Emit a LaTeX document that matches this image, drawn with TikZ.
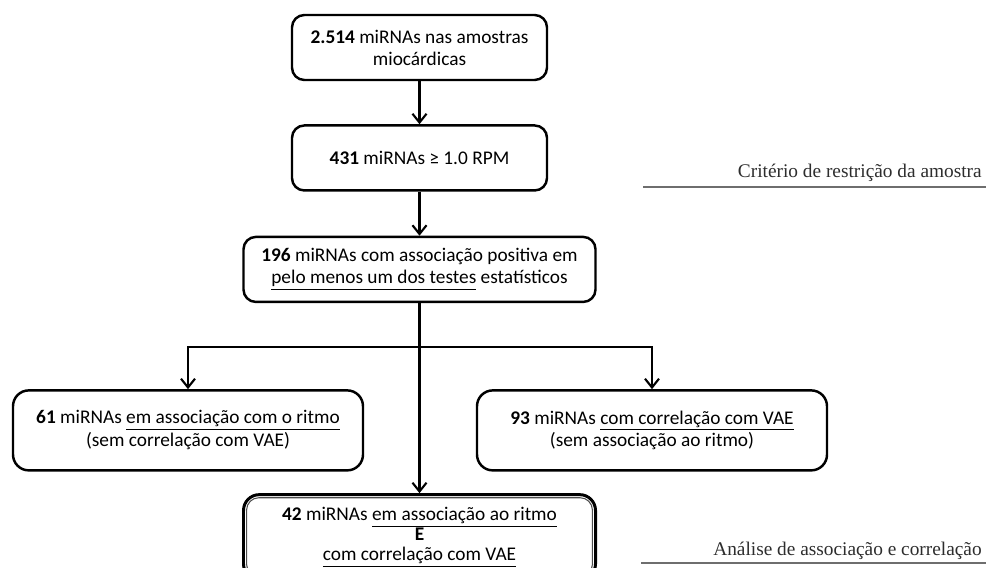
\documentclass[tikz,border=0pt]{standalone}
\usepackage{fontspec}
\setmainfont{Carlito}
\newfontfamily\serifside{Liberation Serif}
\usetikzlibrary{arrows.meta,positioning,calc}
\definecolor{sidegray}{RGB}{45,45,45}
\definecolor{rulegray}{RGB}{110,110,110}

\begin{document}
\begin{tikzpicture}[
    box/.style={draw=black,line width=1.4pt,rounded corners=7pt,align=center,
      minimum width=5.1cm,minimum height=1.3cm,inner sep=2pt,
      font=\fontsize{11}{12.5}\selectfont},
    widebox/.style={box,minimum width=7.04cm},
    sidebox/.style={box,rounded corners=9pt,minimum width=7cm,minimum height=1.6cm,
      font=\fontsize{11}{13}\selectfont},
    finalbox/.style={widebox,line width=1.7pt,minimum height=1.7cm,
      rounded corners=9pt,font=\fontsize{11}{11.5}\selectfont},
    arr/.style={-{Straight Barb[length=5pt,width=8pt]},line width=1.2pt},
    stage/.style={font=\serifside\fontsize{11}{13}\selectfont,text=sidegray,
      anchor=base east,inner sep=0pt},
    rule/.style={draw=rulegray,line width=0.8pt}
  ]
    \useasboundingbox (0,0) rectangle (19.72,-11.34);
    \node[box] (total) at (8.39,-0.95) {\textbf{2.514} miRNAs nas amostras\\miocárdicas};
    \node[box,below=0.86cm of total] (filter) {\textbf{431} miRNAs ≥ 1.0 RPM};
    \node[widebox,below=0.88cm of filter] (assoc)
      {\textbf{196} miRNAs com associação positiva em\\
       \underline{pelo menos um dos testes} estatísticos};
    \coordinate (fork) at ($(assoc.south)+(0,-0.88)$);
    \node[sidebox,below=1.72cm of assoc,xshift=-4.63cm] (rhythm)
      {\textbf{61} miRNAs \underline{em associação com o ritmo}\\(sem correlação com VAE)};
    \node[sidebox,below=1.72cm of assoc,xshift=4.65cm] (vae)
      {\textbf{93} miRNAs \underline{com correlação com VAE}\\(sem associação ao ritmo)};
    \node[finalbox,below=3.8cm of assoc] (both)
      {\textbf{42} miRNAs \underline{em associação ao ritmo}\\\textbf{E}\\
       \underline{com correlação com VAE}};
    % inner line of the double frame
    \draw[line width=0.6pt,draw=black!70,rounded corners=7pt]
      ([shift={(2.6pt,-2.6pt)}]both.north west) rectangle ([shift={(-2.6pt,2.6pt)}]both.south east);
    \draw[arr] (total) -- (filter);
    \draw[arr] (filter) -- (assoc);
    \draw[arr] (assoc) -- (both);
    \draw[arr] (fork) -| (rhythm.north);
    \draw[arr] (fork) -| (vae.north);
    % stage labels on the right
    \node[stage] (restr) at (19.64,-3.54) {Critério de restrição da amostra};
    \coordinate (restrL) at (12.86,-3.74);
    \coordinate (restrR) at (19.72,-3.74);
    \draw[rule] (restrL) -- (restrR);
    \node[stage] (anal) at (19.64,-11.10) {Análise de associação e correlação};
    \coordinate (analL) at (12.82,-11.26);
    \coordinate (analR) at (19.72,-11.26);
    \draw[rule] (analL) -- (analR);
  \end{tikzpicture}
\end{document}
